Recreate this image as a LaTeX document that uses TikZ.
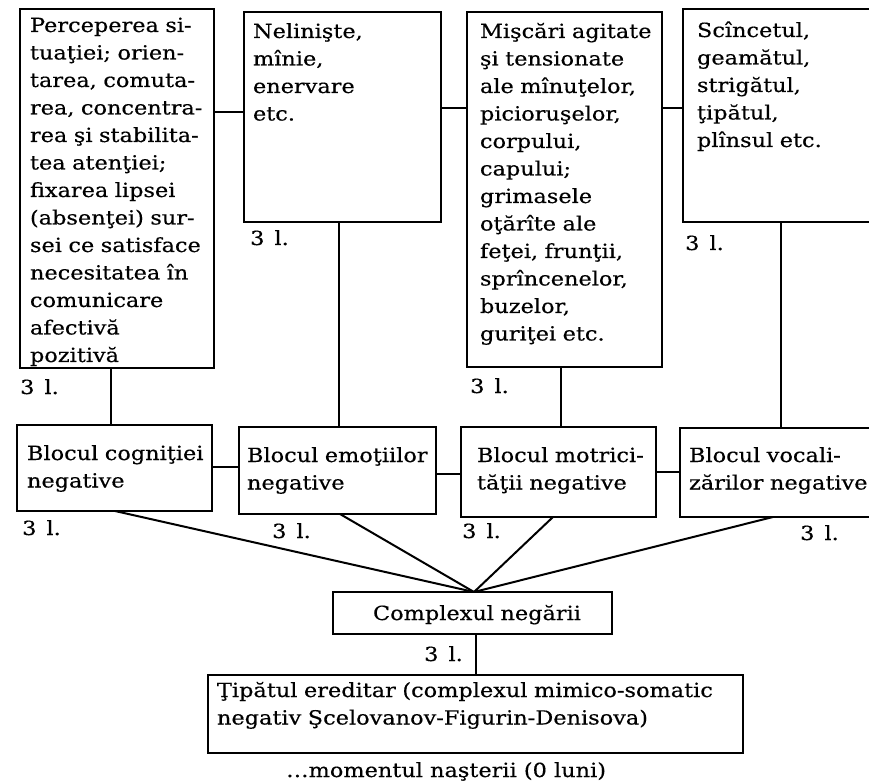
\documentclass[tikz,border=0pt]{standalone}
\usepackage{fontspec}
\setmainfont{DejaVu Serif}[FakeStretch=1.15,FakeBold=0.4]
\newcommand{\tl}{3\hspace{10pt}l.}
\begin{document}
\begin{tikzpicture}[x=1pt,y=-1pt,
  box/.style={draw, line width=2pt, inner sep=0pt, outer sep=0pt, anchor=north west},
  txt/.style={anchor=base west, inner sep=0pt, outer sep=0pt, align=left, text width=560pt,
    font=\fontsize{19.5}{27.5}\selectfont},
  lbl/.style={anchor=base west, inner sep=0pt, font=\fontsize{19.5}{24}\selectfont},
  conn/.style={line width=2pt}]
\useasboundingbox (0,0) rectangle (869,783);
\clip (0,0) rectangle (869,783);
% top boxes
\node[box, minimum width=194pt, minimum height=359pt] (b1) at (20,9) {};
\node[box, minimum width=197pt, minimum height=210pt] (b2) at (244,12) {};
\node[box, minimum width=195pt, minimum height=355pt] (b3) at (467,12) {};
\node[box, minimum width=230pt, minimum height=213pt] (b4) at (683,9) {};
% middle boxes
\node[box, minimum width=195pt, minimum height=86pt] (k1) at (17,425) {};
\node[box, minimum width=197pt, minimum height=87pt] (k2) at (239,427) {};
\node[box, minimum width=195pt, minimum height=90pt] (k3) at (461,427) {};
\node[box, minimum width=230pt, minimum height=89pt] (k4) at (680,428) {};
% bottom boxes
\node[box, minimum width=279pt, minimum height=42pt] (cx) at (333,592) {};
\node[box, minimum width=535pt, minimum height=78pt] (tp) at (208,675) {};
% texts
\node[txt] (t1) at (30,32) {Perceperea si-\\tuaţiei; orien-\\tarea, comuta-\\rea, concentra-\\rea şi stabilita-\\tea atenţiei;\\fixarea lipsei\\(absenţei) sur-\\sei ce satisface\\necesitatea în\\comunicare\\afectivă\\pozitivă};
\node[txt] (t2) at (253,38) {Nelinişte,\\mînie,\\enervare\\etc.};
\node[txt] (t3) at (480,38) {Mişcări agitate\\şi tensionate\\ale mînuţelor,\\picioruşelor,\\corpului,\\capului;\\grimasele\\oţărîte ale\\feţei, frunţii,\\sprîncenelor,\\buzelor,\\guriţei etc.};
\node[txt] (t4) at (697,37) {Scîncetul,\\geamătul,\\strigătul,\\ţipătul,\\plînsul etc.};
\node[txt] (s1) at (27,460) {Blocul cogniţiei\\negative};
\node[txt] (s2) at (247,462) {Blocul emoţiilor\\negative};
\node[txt] (s3) at (477,462) {Blocul motrici-\\tăţii negative};
\node[txt] (s4) at (689,462) {Blocul vocali-\\zărilor negative};
\node[txt] (sc) at (373,620) {Complexul negării};
\node[txt] (st) at (217,697) {Ţipătul ereditar (complexul mimico-somatic\\negativ Şcelovanov-Figurin-Denisova)};
\node[lbl] (mom) at (286,777) {…momentul naşterii (0 luni)};
% 3 l. labels
\node[lbl] (l1) at (20,394) {\tl};
\node[lbl] (l2) at (250,245) {\tl};
\node[lbl] (l3) at (470,393) {\tl};
\node[lbl] (l4) at (685,250) {\tl};
\node[lbl] (l5) at (22,535) {\tl};
\node[lbl] (l6) at (272,538) {\tl};
\node[lbl] (l7) at (462,538) {\tl};
\node[lbl] (l8) at (800,540) {\tl};
\node[lbl, anchor=base east] (l9) at (463,661) {\tl};
% horizontal connectors top
\draw[conn] (b1.east |- 0,112) -- (b2.west |- 0,112);
\draw[conn] (b2.east |- 0,108) -- (b3.west |- 0,108);
\draw[conn] (b3.east |- 0,108) -- (b4.west |- 0,108);
% verticals
\draw[conn] ([xshift=91pt]b1.south west) -- ([xshift=94pt]k1.north west);
\draw[conn] ([xshift=95pt]b2.south west) -- ([xshift=100pt]k2.north west);
\draw[conn] ([xshift=94pt]b3.south west) -- ([xshift=100pt]k3.north west);
\draw[conn] ([xshift=98pt]b4.south west) -- ([xshift=101pt]k4.north west);
% horizontal connectors middle
\draw[conn] (k1.east |- 0,467) -- (k2.west |- 0,467);
\draw[conn] (k2.east |- 0,474) -- (k3.west |- 0,474);
\draw[conn] (k3.east |- 0,472) -- (k4.west |- 0,472);
% converging lines
\coordinate (m) at ([xshift=141pt]cx.north west);
\draw[conn] ([xshift=98pt]k1.south west) -- (m);
\draw[conn] ([xshift=101pt]k2.south west) -- (m);
\draw[conn] ([xshift=92pt]k3.south west) -- (m);
\draw[conn] ([xshift=93pt]k4.south west) -- (m);
% bottom vertical
\draw[conn] ([xshift=143pt]cx.south west) -- ([xshift=268pt]tp.north west);
\end{tikzpicture}
\end{document}
